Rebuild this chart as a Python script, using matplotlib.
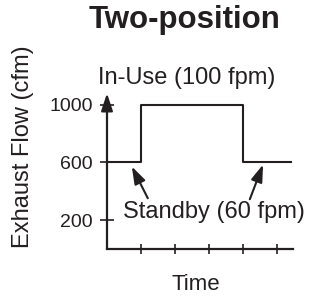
import matplotlib
matplotlib.use('Agg')
import matplotlib.pyplot as plt

# --- Data ---
time_pts = [0, 1, 4, 5.4]
flow_pts = [600, 1000, 600, 600]
y_ticks = [200, 600, 1000]
x_ticks = [1, 2, 3, 4, 5]
title = "Two-position"
in_use_label = "In-Use (100 fpm)"
standby_label = "Standby (60 fpm)"
# ------------

INK = '#231f20'
ARROW = '-|>,head_length=0.75,head_width=0.25'
plt.rcParams['font.family'] = ['Liberation Sans', 'DejaVu Sans']

W, H = 309, 299
fig = plt.figure(figsize=(W / 100, H / 100), dpi=100)
fig.patch.set_facecolor('white')

# axes box in pixels: left 107, right 293, bottom 249, top 94
ax = fig.add_axes([107 / W, (H - 249) / H, (293 - 107) / W, (249 - 94) / H])
ax.set_xlim(0, 5.47)
ax.set_ylim(0, 1075)

ax.step(time_pts, flow_pts, where='post', color=INK, lw=1.5)

# style
for s in ['top', 'right', 'left']:
    ax.spines[s].set_visible(False)
ax.spines['bottom'].set_linewidth(1.6)
ax.spines['bottom'].set_color(INK)
ax.annotate('', xy=(0, 1080), xytext=(0, 0), annotation_clip=False,
            arrowprops=dict(arrowstyle=ARROW, lw=1.6, color=INK,
                            mutation_scale=14, shrinkA=0, shrinkB=0))

ax.set_yticks(y_ticks)
ax.set_yticklabels([str(v) for v in y_ticks], fontsize=14, color=INK)
ax.tick_params(axis='y', direction='inout', length=10, width=1.2, pad=5, color=INK)
ax.set_xticks(x_ticks)
ax.set_xticklabels([])
ax.tick_params(axis='x', direction='inout', length=7, width=1.2, color=INK)

# labels
ax.text(2.35, 1186, in_use_label, ha='center', va='center', fontsize=17,
        color=INK, clip_on=False)
ax.text(3.15, 255, standby_label, ha='center', va='center', fontsize=17, color=INK)
ax.annotate('', xy=(0.73, 572), xytext=(1.2, 352),
            arrowprops=dict(arrowstyle=ARROW, lw=1.5, color=INK,
                            mutation_scale=14, shrinkA=0, shrinkB=0))
ax.annotate('', xy=(4.59, 586), xytext=(4.2, 345),
            arrowprops=dict(arrowstyle=ARROW, lw=1.5, color=INK,
                            mutation_scale=14, shrinkA=0, shrinkB=0))

fig.text(185 / W, 1 - 20 / H, title, ha='center', va='center',
         fontsize=22.5, fontweight='bold', color=INK)
fig.text(23 / W, 1 - 147 / H, "Exhaust Flow (cfm)", ha='center', va='center',
         rotation=90, fontsize=17, color=INK)
fig.text(196 / W, 1 - 285 / H, "Time", ha='center', va='center',
         fontsize=16, color=INK)

fig.savefig('out.png', dpi=100)
